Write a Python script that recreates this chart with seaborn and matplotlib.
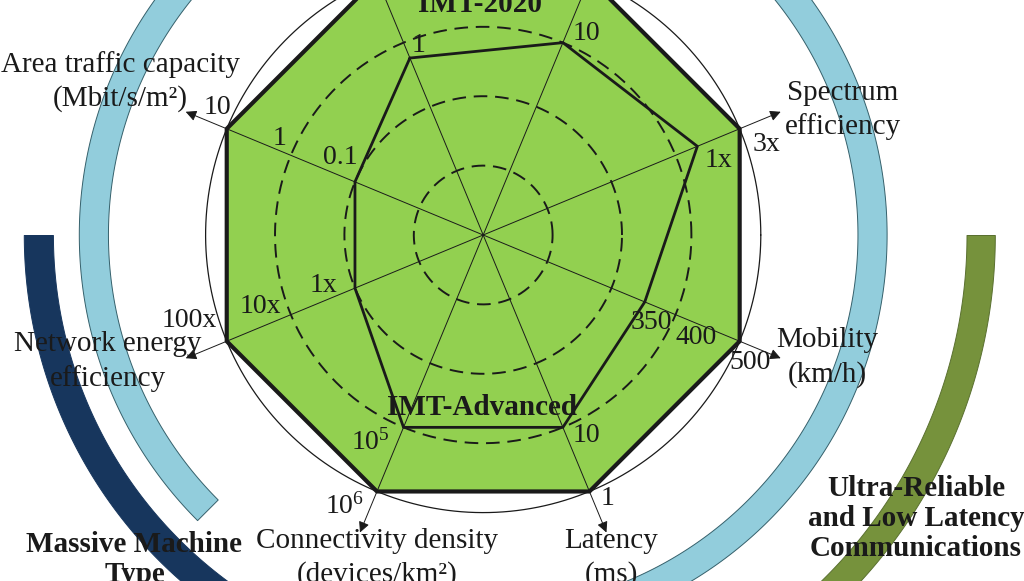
import numpy as np
import pandas as pd
import seaborn as sns
import matplotlib
matplotlib.use('Agg')
import matplotlib.pyplot as plt

# spokes, clockwise from the upper left one
spokes = ['Peak data rate', 'User experienced data rate', 'Spectrum efficiency',
          'Mobility', 'Latency', 'Connectivity density',
          'Network energy efficiency', 'Area traffic capacity']
spoke_titles = ['', '', 'Spectrum\nefficiency', 'Mobility\n(km/h)', 'Latency\n(ms)',
                'Connectivity density\n(devices/km\u00b2)', 'Network energy\nefficiency',
                'Area traffic capacity\n(Mbit/s/m\u00b2)']

# radial position of each system on the spokes (outer ring = 1)
imt_2020 = [1.0, 1.0, 1.0, 1.0, 1.0, 1.0, 1.0, 1.0]
imt_advanced = [0.69, 0.75, 0.835, 0.63, 0.75, 0.75, 0.5, 0.5]

# value labels along the spokes
tick_spoke = [0, 1, 2, 2, 3, 3, 3, 4, 4, 5, 5, 6, 6, 6, 7, 7, 7]
tick_r = [0.69, 0.75, 0.835, 1.0, 0.63, 0.75, 1.0, 0.75, 1.0, 0.75, 1.0,
          0.5, 0.75, 1.0, 0.5, 0.75, 1.0]
tick_labels = ['1', '10', '1x', '3x', '350', '400', '500', '10', '1',
               r'$\mathregular{10^5}$', r'$\mathregular{10^6}$',
               '1x', '10x', '100x', '0.1', '1', '10']

# usage scenario bands
scenario_names = ['Enhanced Mobile Broadband', 'Massive Machine\nType',
                  'Ultra-Reliable\nand Low Latency\nCommunications']
scenario_colors = ['#92cddc', '#17365d', '#76923c']

# ---- layout (pixels of the 1024x581 picture) ----
W, H = 1024, 581
CX, CY, RPX = 483.2, 235.0, 277.6
RMAX = 1.9
LINE_GAP = 34
tick_off = [(9, -13), (24, -9), (21, 14), (27, 16), (7, 21), (21, 23), (10, 21),
            (24, 8), (18, 7), (-33, 15), (-32, 15), (-31, -3), (-30, -8),
            (-37, -21), (-15, -24), (-11, -17), (-9, -21)]
title_off = [None, None, (62, -2), (47, -1), (5, 25), (17, 25), (-78, 3), (-65, -30)]
band_theta = [(-75, 225), (180, 265), (-85, 0)]
band_r = [(1.35, 1.455), (1.55, 1.655), (1.741, 1.843)]
band_edge = ['#35606b', '#17365d', '#5a7030']
scen_pos = [None, (222.9, 1.715), (-33.2, 1.863)]

sns.set_theme(style='white')
plt.rcParams['font.family'] = ['Liberation Serif', 'DejaVu Serif']
plt.rcParams['text.color'] = 'black'
plt.rcParams['mathtext.fontset'] = 'custom'
plt.rcParams['mathtext.rm'] = 'Liberation Serif'

fig = plt.figure(figsize=(W / 100, H / 100), dpi=100)
fig.patch.set_facecolor('white')
rad = RMAX * RPX
ax = fig.add_axes([(CX - rad) / W, 1 - (CY + rad) / H, 2 * rad / W, 2 * rad / H],
                  projection='polar')
ax.set_axis_off()

theta = np.deg2rad(112.5 - 45 * np.arange(len(spokes)))
theta_c = np.append(theta, theta[0] - 2 * np.pi)

# scenario bands
for (t0, t1), (r0, r1), col, ec in zip(band_theta, band_r, scenario_colors, band_edge):
    th = np.deg2rad(np.linspace(t0, t1, 400))
    ax.fill_between(th, r0, r1, color=col, ec=ec, lw=0.7, zorder=1)

# IMT-2020 area
ax.fill(theta_c, np.append(imt_2020, imt_2020[0]), color='#92d050', lw=0, zorder=2)

# rings
ring = np.linspace(0, 2 * np.pi, 500)
for rr in [0.25, 0.5, 0.75]:
    ax.plot(ring, np.full_like(ring, rr), color='k', lw=1.4, ls=(0, (7, 4)), zorder=3)
ax.plot(ring, np.ones_like(ring), color='k', lw=0.9, zorder=3)

# spokes with arrows
for th in theta:
    ax.annotate('', xy=(th, 1.16), xytext=(th, 0),
                arrowprops=dict(arrowstyle='-|>', color='k', lw=0.7,
                                shrinkA=0, shrinkB=0, mutation_scale=16),
                zorder=3)

# system outlines
df = pd.DataFrame({
    'theta': np.concatenate([theta_c, theta_c]),
    'r': np.concatenate([np.append(imt_2020, imt_2020[0]),
                         np.append(imt_advanced, imt_advanced[0])]),
    'system': ['IMT-2020'] * len(theta_c) + ['IMT-Advanced'] * len(theta_c),
})
sns.lineplot(data=df[df.system == 'IMT-2020'], x='theta', y='r', sort=False,
             estimator=None, color='k', lw=3.0, ax=ax, zorder=4)
sns.lineplot(data=df[df.system == 'IMT-Advanced'], x='theta', y='r', sort=False,
             estimator=None, color='k', lw=2.0, ax=ax, zorder=4)
ax.set_ylim(0, RMAX)
ax.set_axis_off()

# value labels
for i, r, lab, (dx, dy) in zip(tick_spoke, tick_r, tick_labels, tick_off):
    ax.annotate(lab, xy=(theta[i], r), xytext=(dx, -dy), textcoords='offset pixels',
                ha='center', va='center', fontsize=20, color='k', zorder=6)

# spoke titles, one text per line
for th, txt, off in zip(theta, spoke_titles, title_off):
    if off is None:
        continue
    lines = txt.split('\n')
    for k, line in enumerate(lines):
        dy = off[1] + (k - (len(lines) - 1) / 2) * LINE_GAP
        ax.annotate(line, xy=(th, 1.16), xytext=(off[0], -dy),
                    textcoords='offset pixels', ha='center', va='center',
                    fontsize=21, color='k', zorder=6)

# system names
ax.text(np.deg2rad(90.7), 0.829, 'IMT-2020', ha='center', va='center',
        fontsize=21, fontweight='bold', color='k', zorder=6)
ax.text(np.deg2rad(-90.3), 0.623, 'IMT-Advanced', ha='center', va='center',
        fontsize=21, fontweight='bold', color='k', zorder=6)

# scenario names
for name, pos in zip(scenario_names, scen_pos):
    if pos is None:
        continue
    ax.text(np.deg2rad(pos[0]), pos[1], name, ha='center', va='center',
            multialignment='center', fontsize=21, fontweight='bold',
            linespacing=1.15, color='k', zorder=6)

fig.savefig('out.png', dpi=100, facecolor='white')
